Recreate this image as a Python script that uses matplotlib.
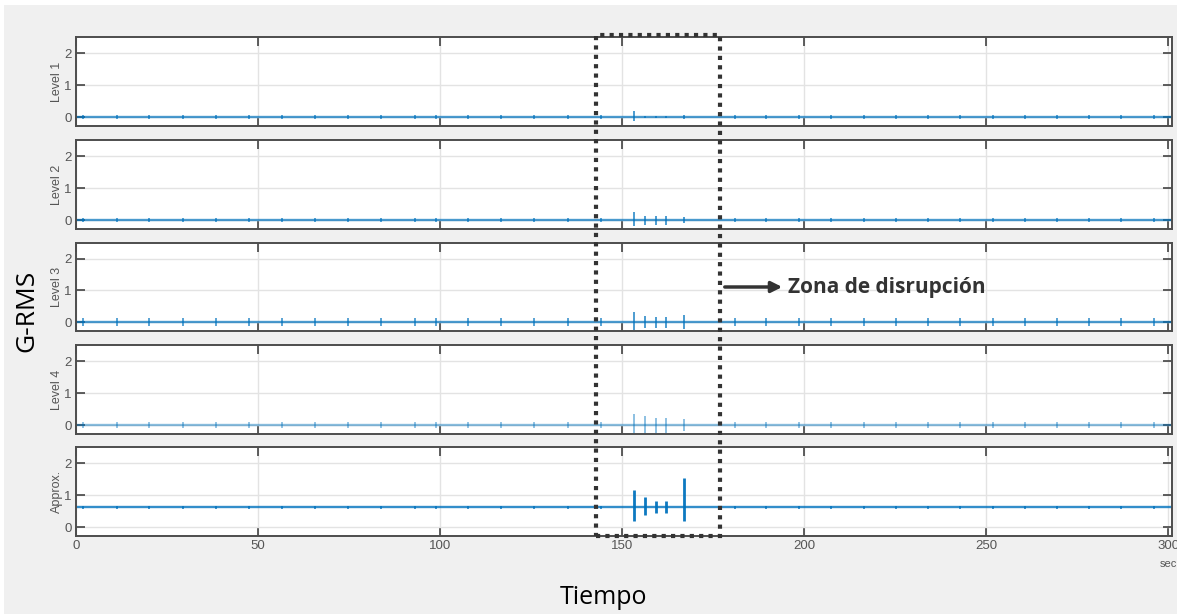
import matplotlib.pyplot as plt
from matplotlib.patches import Rectangle, FancyArrowPatch

# signal: flat baseline with short spikes
t_end = 301
level_names = ["Level 1", "Level 2", "Level 3", "Level 4", "Approx."]
baselines = [0.0, 0.0, 0.0, 0.0, 0.62]

# regular small spikes (seconds)
spike_times = [2.0, 11.2, 20.1, 29.3, 38.4, 47.6, 56.5, 65.7, 74.8, 83.9,
               93.0, 98.8, 107.7, 116.8, 125.9, 135.1, 144.2,
               180.9, 189.6, 198.6, 207.4, 216.3, 225.1, 234.0, 242.8,
               251.8, 260.7, 269.4, 278.2, 287.0, 296.0]
spike_amp = [0.05, 0.06, 0.13, 0.10, 0.05]

# spikes inside the disruption zone (offset from baseline)
disrupt_times = [153.2, 156.4, 159.3, 161.9, 167.0]
disrupt_top = [[0.18, 0.04, 0.04, 0.04, 0.07],
               [0.24, 0.14, 0.14, 0.14, 0.10],
               [0.33, 0.20, 0.17, 0.17, 0.22],
               [0.33, 0.29, 0.23, 0.23, 0.20],
               [0.53, 0.32, 0.19, 0.19, 0.92]]
disrupt_bottom = [[-0.13, -0.04, -0.04, -0.04, -0.07],
                  [-0.20, -0.14, -0.14, -0.14, -0.10],
                  [-0.26, -0.19, -0.17, -0.17, -0.22],
                  [-0.31, -0.29, -0.24, -0.24, -0.20],
                  [-0.43, -0.25, -0.17, -0.18, -0.43]]

xticks = [0, 50, 100, 150, 200, 250, 300]
yticks = [0, 1, 2]

W, H = 1177, 614
def fx(px): return px / W
def fy(py): return 1 - py / H

panel_px = [(37, 126), (140, 229), (243, 331), (345, 434), (447, 536)]
line_alpha = [0.7, 0.7, 0.7, 0.45, 0.8]

plt.rcParams['font.family'] = ['Liberation Sans', 'DejaVu Sans']
fig = plt.figure(figsize=(W / 100, H / 100), dpi=100)
fig.patch.set_facecolor('white')
fig.add_artist(Rectangle((fx(4), 0), 1 - fx(4), fy(5), transform=fig.transFigure,
                         facecolor='#f0f0f0', edgecolor='none', zorder=-10))

blue = '#0072BD'
for i, (top, bot) in enumerate(panel_px):
    ax = fig.add_axes([fx(76), fy(bot), 1096 / W, (bot - top) / H])
    ax.set_facecolor('white')
    base = baselines[i]
    ax.plot([0, t_end], [base, base], color=blue, lw=1.7, alpha=line_alpha[i])
    ax.vlines(spike_times, base - spike_amp[i], base + spike_amp[i],
              color=blue, lw=1.3, alpha=line_alpha[i])
    ax.vlines(disrupt_times, [base + b for b in disrupt_bottom[i]],
              [base + t for t in disrupt_top[i]],
              color=blue, lw=2.0 if i == 4 else 1.4,
              alpha=0.95 if i == 4 else line_alpha[i])
    ax.set_xlim(0, t_end)
    ax.set_ylim(-0.28, 2.5)
    ax.set_xticks(xticks)
    ax.set_yticks(yticks)
    ax.grid(True, color='#e3e3e3', lw=1)
    ax.set_axisbelow(True)
    ax.tick_params(direction='in', top=True, right=True, length=6.5, width=1.1,
                   color='#333333', labelcolor='#555555', labelsize=9.5, pad=3)
    if i < 4:
        ax.tick_params(labelbottom=False)
    for s in ax.spines.values():
        s.set_color('#4d4d4d')
        s.set_linewidth(1.4)
    ax.set_ylabel(level_names[i], fontsize=9, color='#555555')
    ax.yaxis.set_label_coords(-0.012, 0.5)

fig.text(fx(1168), fy(564), 'sec', fontsize=8, color='#555555', ha='center', va='center')

# disruption zone box and label
fig.add_artist(Rectangle((fx(595.5), fy(536)), (720 - 595.5) / W, (536 - 35) / H,
                         transform=fig.transFigure, fill=False, edgecolor='#333333',
                         lw=3, linestyle=(0, (1, 1.25)), zorder=20))
fig.add_artist(FancyArrowPatch((fx(722), fy(287)), (fx(785), fy(287)),
                               transform=fig.transFigure, arrowstyle='-|>',
                               mutation_scale=16, lw=2.5, color='#333333'))
fig.text(fx(788), fy(287), 'Zona de disrupción', fontsize=15, fontweight='bold',
         family=['Open Sans', 'DejaVu Sans'], color='#333333', va='center')

fig.text(fx(27), fy(311), 'G-RMS', rotation=90, fontsize=19,
         family=['Open Sans', 'DejaVu Sans'], ha='center', va='center')
fig.text(fx(603), fy(597), 'Tiempo', fontsize=18,
         family=['Open Sans', 'DejaVu Sans'], ha='center', va='center')

fig.savefig('out.png', dpi=100, facecolor=fig.get_facecolor())
